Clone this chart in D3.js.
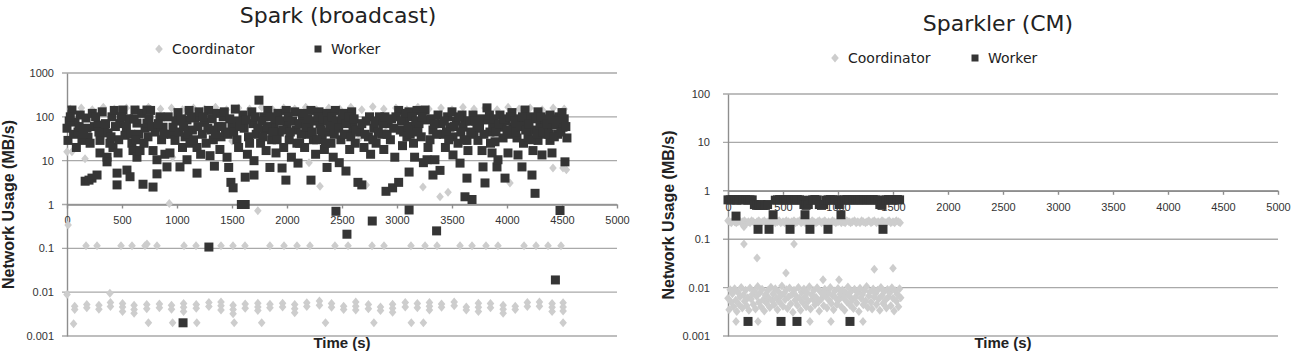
<!DOCTYPE html>
<html>
<head>
<meta charset="utf-8">
<script src="https://cdn.jsdelivr.net/npm/d3@7"></script>
<style>
  body { margin: 0; background: #fff; }
  svg { display: block; }
</style>
</head>
<body>
<svg id="chart" width="1294" height="353"></svg>
<script>
// ---- data ----
const xTicks = [0, 500, 1000, 1500, 2000, 2500, 3000, 3500, 4000, 4500, 5000];
const sparkYTicks = [0.001, 0.01, 0.1, 1, 10, 100, 1000];
const sparkYLabels = ["0.001", "0.01", "0.1", "1", "10", "100", "1000"];
const sparklerYTicks = [0.001, 0.01, 0.1, 1, 10, 100];
const sparklerYLabels = ["0.001", "0.01", "0.1", "1", "10", "100"];
const seriesNames = ["Coordinator", "Worker"];
const titles = ["Spark (broadcast)", "Sparkler (CM)"];

// Spark (broadcast) - [time s, MB/s]
const sparkWorker = [
  [0,55],[9,29],[20,80],[45,143],[60,40],[73,76],[100,45],[120,110],[136,29],[173,94],[182,55],[191,34],[165,3.4],[200,3.6],[227,4],[273,4.7],
  [230,120],[250,60],[282,65],[300,29],[300,15],[320,130],[340,45],[364,12],[364,9.4],[373,43],[390,25],[409,100],[418,20],[430,140],[455,2.8],
  [455,5.2],[464,15],[480,70],[509,143],[527,38],[545,6.1],[560,90],[573,4.3],[590,25],[600,17],[618,143],[636,72],[636,12],[650,40],[664,17],
  [680,120],[691,2.9],[710,55],[727,143],[727,72],[736,35],[760,140],[782,2.5],[782,17],[800,45],[818,10.5],[818,5],[845,100],[860,30],[873,58],
  [890,14],[909,7.2],[936,15],[950,40],[964,58],[982,29],[1009,125],[1027,7.2],[1050,20],[1073,35],[1091,85],[1091,10.5],[1110,140],[1118,25],
  [1140,50],[1164,94],[1182,20],[1182,5.2],[1200,130],[1055,0.002],
  [1215,14],[1230,40],[1250,75],[1265,25],[1287,140],[1290,0.107],[1300,13],[1310,50],[1330,30],[1340,7.5],[1362,120],[1375,60],[1390,18],[1400,35],
  [1420,100],[1440,45],[1455,12],[1470,7],[1490,3.2],[1510,2.4],[1500,60],[1530,150],[1545,30],[1560,20],[1585,1.0],[1620,1.0],[1620,4.2],
  [1600,110],[1610,55],[1640,14],[1650,35],[1680,130],[1690,70],[1700,4.7],[1700,10],[1720,40],[1745,240],[1760,25],[1790,100],[1800,50],
  [1810,17],[1826,140],[1845,7],[1860,30],[1880,60],[1900,15],[1918,120],[1930,45],[1955,6.8],[1970,20],[1993,140],[1990,3.6],[2000,65],
  [2020,30],[2040,12],[2070,130],[2085,50],[2100,8.8],[2115,25],[2140,90],[2160,20],[2180,40],[2200,60],[2218,140],[2218,3.6],[2240,30],
  [2260,14],[2291,130],[2300,70],[2320,35],[2340,18],[2364,120],[2364,7],[2380,45],[2400,25],[2420,12],[2440,140],[2445,0.7],[2460,60],
  [2475,9],[2490,30],[2515,120],[2536,5.8],[2545,0.21],[2550,40],[2570,18],[2588,130],[2600,60],[2620,25],[2645,3.2],[2680,2.8],[2660,45],
  [2700,20],[2720,80],[2740,35],[2760,14],[2775,0.42],[2790,55],[2810,25],[2840,100],[2860,40],[2880,18],[2900,2.0],[2920,70],[2940,30],
  [2960,2.4],[2980,12],[3015,3.2],[3015,140],[3030,50],[3050,22],[3070,90],[3090,35],[3110,5.5],[3110,0.75],[3109,130],[3130,60],[3150,25],
  [3160,12],[3182,140],[3200,70],[3220,35],[3240,9],
  [3255,143],[3273,85],[3273,10.5],[3282,20],[3300,30],[3327,50],[3327,4.7],[3345,10.5],[3360,0.25],[3373,110],[3391,6],[3400,70],[3420,40],
  [3440,20],[3460,100],[3482,58],[3500,130],[3509,35],[3509,13.5],[3540,80],[3555,25],[3573,8.8],[3591,110],[3600,58],[3618,1.5],[3620,80],
  [3636,29],[3636,4],[3645,17],[3682,1.3],[3691,110],[3700,40],[3727,55],[3736,29],[3760,90],[3773,17],[3782,7.2],[3800,3.1],[3818,160],
  [3827,85],[3845,45],[3864,15],[3870,60],[3891,27],[3909,7.2],[3918,10.5],[3936,110],[3955,58],[3964,33],[3982,4],[3990,80],[4009,15],
  [4020,40],[4045,125],[4055,58],[4091,33],[4100,13.5],[4110,90],[4136,7.2],[4150,25],[4164,143],[4182,72],[4191,35],[4210,100],[4227,4.7],
  [4236,17],[4250,50],[4255,1.8],[4282,130],[4282,29],[4300,65],[4318,13.5],[4340,90],[4350,40],[4373,58],[4391,110],[4391,29],[4409,15],
  [4436,65],[4440,0.019],[4460,40],[4470,100],[4482,0.73],[4500,125],[4509,58],[4527,9.4],[4545,33],
  // the dense 15-120 band
  [30,100],[85,20],[110,60],[150,40],[210,25],[260,100],[290,45],[350,70],[400,35],[440,60],[470,30],[495,100],[540,60],[580,40],[610,90],
  [625,30],[700,25],[745,90],[770,60],[830,70],[880,40],[920,100],[990,80],[1020,45],[1040,90],[1060,60],[1100,40],[1130,100],[1150,30],
  [1190,60],[1240,100],[1280,55],[1320,90],[1350,40],[1410,60],[1430,130],[1465,40],[1480,90],[1515,45],[1550,80],[1570,60],[1630,85],
  [1660,25],[1710,100],[1735,55],[1770,80],[1780,35],[1820,60],[1850,100],[1870,45],[1890,90],[1910,30],[1940,80],[1960,50],[2010,100],
  [2030,45],[2050,80],[2090,25],[2110,70],[2130,40],[2150,120],[2170,60],[2190,90],[2230,45],[2250,80],[2270,30],[2280,100],[2310,50],
  [2330,90],[2350,25],[2370,80],[2390,60],[2410,100],[2430,40],[2450,80],[2470,55],[2500,90],[2520,40],[2540,70],[2560,100],[2580,35],
  [2610,90],[2630,50],[2680,70],[2710,40],[2750,100],[2780,30],[2800,80],[2830,45],[2870,70],[2890,100],[2910,40],[2950,90],[2970,55],
  [2990,100],[3040,80],[3060,45],[3080,120],[3100,60],[3120,40],[3140,100],[3170,80],[3190,45],[3230,100],[3310,90],[3340,70],[3360,40],
  [3430,80],[3450,45],[3470,30],[3520,60],[3560,100],[3580,45],[3610,30],[3660,80],[3670,45],[3710,80],[3750,60],[3790,40],[3840,110],
  [3850,25],[3880,90],[3900,45],[3925,70],[3970,90],[4000,50],[4030,100],[4070,80],[4080,45],[4120,60],[4140,100],[4170,50],[4200,70],
  [4220,30],[4260,90],[4270,40],[4310,100],[4330,45],[4360,70],[4380,40],[4420,90],[4430,35],[4450,80],[4490,45],[4520,90],[4535,60]
];

const sparkCoordinator = [
  // upper row
  [30,150],[130,160],[230,145],[330,165],[430,150],[540,160],[640,145],[740,165],[850,150],[950,160],[1050,145],[1150,160],[1250,150],
  [1350,165],[1450,145],[1560,160],[1660,150],[1770,165],[1870,145],[1970,160],[2070,150],[2170,165],[2270,145],[2380,160],[2480,150],
  [2580,165],[2680,145],[2780,170],[2880,150],[2990,160],[3090,145],[3190,165],[3290,150],[3400,160],[3500,145],[3600,165],[3700,150],
  [3800,160],[3910,145],[4010,165],[4110,150],[4210,160],[4320,145],[4420,160],[4520,150],
  [2650,30],[2700,40],[2800,60],[2900,45],[1240,35],[1500,28],
  // scattered
  [0,16],[45,16],[164,11],[960,12],[2200,9],[930,1.05],[1735,0.72],[2300,2.6],[2720,2.8],[3236,2.5],[3391,1.5],[3464,1.9],[4027,3.1],
  [4418,6.8],[4509,6.8],[4540,6.2],[10,0.34],[0,0.0088],[390,0.0095],
  // 0.1 row
  [173,0.115],[273,0.115],[491,0.115],[591,0.115],[709,0.115],[727,0.125],[818,0.115],[1064,0.115],[1173,0.115],[1400,0.115],[1509,0.115],
  [1618,0.115],[1845,0.115],[1973,0.115],[2091,0.115],[2209,0.115],[2436,0.115],[2555,0.115],[2773,0.115],[2882,0.115],[3127,0.115],
  [3255,0.115],[3364,0.115],[3573,0.115],[3682,0.115],[3809,0.115],[3918,0.115],[4155,0.115],[4264,0.115],[4373,0.115],[4491,0.115],
  // 0.001 - 0.01 rows
  [70,0.0048],[70,0.004],[60,0.0019],[180,0.0052],[180,0.0044],[290,0.005],[290,0.0041],[395,0.0058],[395,0.0047],
  [505,0.0055],[505,0.0046],[505,0.0036],[610,0.005],[610,0.004],[610,0.0033],[725,0.0052],[725,0.0042],[740,0.002],
  [840,0.0054],[840,0.0044],[950,0.005],[950,0.0041],[960,0.002],[1060,0.0055],[1060,0.0045],[1060,0.0036],
  [1175,0.0052],[1175,0.0043],[1180,0.002],[1290,0.0058],[1290,0.0047],[1400,0.006],[1400,0.0049],[1400,0.0039],
  [1510,0.005],[1510,0.004],[1510,0.0032],[1520,0.002],[1620,0.0054],[1620,0.0043],[1735,0.0056],[1735,0.0046],[1735,0.0038],[1770,0.002],
  [1845,0.0053],[1845,0.0044],[1960,0.0056],[1960,0.0046],[2070,0.0052],[2070,0.0042],[2070,0.0034],[2180,0.0057],[2180,0.0047],
  [2295,0.0063],[2295,0.005],[2350,0.002],[2405,0.0055],[2405,0.0045],[2515,0.0048],[2515,0.004],[2625,0.006],[2625,0.0048],[2625,0.0039],
  [2740,0.0052],[2740,0.0042],[2850,0.0046],[2850,0.0038],[2790,0.002],[2960,0.0053],[2960,0.0043],[2960,0.0035],[3075,0.0058],[3075,0.0046],
  [3185,0.0055],[3185,0.0044],[3130,0.002],[3240,0.002],[3295,0.0058],[3295,0.0048],[3295,0.0039],[3405,0.0054],[3405,0.0045],
  [3520,0.006],[3520,0.0049],[3630,0.0046],[3630,0.0039],[3740,0.0056],[3740,0.0045],[3740,0.0036],[3850,0.0055],[3850,0.0044],
  [3965,0.005],[3965,0.0041],[3965,0.0033],[4075,0.0048],[4075,0.004],[4185,0.0058],[4185,0.0047],[4295,0.006],[4295,0.0048],
  [4410,0.0055],[4410,0.0045],[4410,0.0036],[4510,0.0057],[4510,0.0046],[4510,0.0037],[4510,0.002]
];

// Sparkler (CM)
const sparklerWorker = [
  [0,0.65],[20,0.65],[40,0.66],[60,0.65],[73,0.3],[80,0.64],[100,0.66],[120,0.65],[140,0.65],[160,0.66],[180,0.64],[182,0.002],[200,0.65],
  [220,0.65],[240,0.52],[260,0.5],[273,0.16],[280,0.5],[300,0.52],[320,0.5],[340,0.5],[360,0.52],[373,0.16],[410,0.32],[430,0.64],[450,0.65],
  [470,0.66],[482,0.002],[490,0.65],[510,0.64],[530,0.65],[550,0.66],[564,0.16],[570,0.65],[590,0.64],[610,0.65],[627,0.002],[630,0.66],
  [650,0.65],[670,0.64],[690,0.52],[700,0.32],[710,0.5],[730,0.52],[745,0.16],[750,0.64],[770,0.65],[790,0.66],[810,0.65],[830,0.52],
  [850,0.5],[870,0.52],[890,0.64],[909,0.16],[910,0.65],[930,0.66],[950,0.65],[970,0.64],[990,0.65],[1010,0.52],[1027,0.32],[1040,0.64],
  [1060,0.65],[1080,0.66],[1100,0.65],[1109,0.002],[1120,0.64],[1140,0.65],[1160,0.66],[1180,0.65],[1200,0.64],[1220,0.65],[1240,0.66],
  [1260,0.65],[1280,0.64],[1300,0.65],[1320,0.66],[1340,0.65],[1360,0.64],[1380,0.52],[1400,0.5],[1409,0.16],[1420,0.64],[1440,0.65],
  [1460,0.66],[1480,0.65],[1500,0.64],[1520,0.65],[1540,0.66],[1560,0.65]
];

const sparklerCoordinator = [
  // ~0.23 row
  [0,0.24],[15,0.23],[30,0.22],[45,0.24],[60,0.23],[75,0.22],[90,0.23],[105,0.24],[120,0.22],[135,0.23],[150,0.24],[170,0.22],[185,0.23],
  [200,0.22],[215,0.24],[230,0.23],[250,0.21],[265,0.23],[280,0.24],[300,0.22],[315,0.23],[330,0.24],[350,0.22],[365,0.23],[380,0.22],
  [400,0.24],[415,0.23],[430,0.22],[450,0.23],[465,0.24],[480,0.22],[500,0.23],[515,0.22],[530,0.24],[550,0.23],[565,0.22],[580,0.23],
  [600,0.24],[615,0.22],[630,0.23],[650,0.24],[665,0.22],[680,0.23],[700,0.22],[715,0.24],[730,0.23],[750,0.22],[765,0.24],[780,0.23],
  [800,0.22],[815,0.23],[830,0.24],[850,0.22],[865,0.23],[880,0.24],[900,0.22],[915,0.23],[930,0.22],[950,0.24],[965,0.23],[980,0.22],
  [1000,0.23],[1015,0.24],[1030,0.22],[1050,0.23],[1065,0.22],[1080,0.24],[1100,0.23],[1115,0.22],[1130,0.23],[1150,0.24],[1165,0.22],
  [1180,0.23],[1200,0.22],[1215,0.24],[1230,0.23],[1250,0.22],[1265,0.23],[1280,0.24],[1300,0.22],[1315,0.23],[1330,0.24],[1350,0.22],
  [1365,0.23],[1380,0.22],[1400,0.24],[1415,0.23],[1430,0.22],[1450,0.23],[1465,0.24],[1480,0.22],[1500,0.23],[1515,0.22],[1530,0.24],
  [1550,0.23],[1565,0.22],
  // scattered
  [145,0.18],[145,0.08],[264,0.041],[527,0.02],[600,0.08],[1330,0.024],[1500,0.025],[864,0.0145],[1009,0.0145],
  [73,0.002],[273,0.002],[745,0.002],[936,0.002],[1227,0.002],
  // dense 0.003 - 0.01 band
  [0,0.006],[10,0.0035],[20,0.009],[30,0.005],[40,0.0075],[50,0.004],[60,0.0095],[70,0.0055],[80,0.0032],[90,0.008],[100,0.0045],
  [110,0.0065],[120,0.01],[130,0.0038],[140,0.007],[150,0.0052],[160,0.0088],[170,0.0042],[180,0.0062],[190,0.0034],[200,0.0098],
  [210,0.0058],[220,0.0072],[230,0.0045],[240,0.0085],[250,0.0036],[260,0.0066],[270,0.0105],[280,0.005],[290,0.0078],[300,0.004],
  [310,0.0092],[320,0.0056],[330,0.0033],[340,0.007],[350,0.0048],[360,0.0086],[370,0.0062],[380,0.0039],[390,0.0102],[400,0.0054],
  [410,0.0075],[420,0.0044],[430,0.0095],[440,0.006],[450,0.0035],[460,0.0082],[470,0.005],[480,0.0068],[490,0.0108],[500,0.0041],
  [510,0.0076],[520,0.0057],[530,0.009],[540,0.0037],[550,0.0064],[560,0.0098],[570,0.0046],[580,0.0072],[590,0.0031],[600,0.0088],
  [610,0.0055],[620,0.0067],[630,0.0043],[640,0.01],[650,0.006],[660,0.0034],[670,0.008],[680,0.0049],[690,0.0094],[700,0.0065],
  [710,0.004],[720,0.0078],[730,0.0053],[740,0.0104],[750,0.0036],[760,0.0071],[770,0.0058],[780,0.0087],[790,0.0044],[800,0.0063],
  [810,0.0099],[820,0.005],[830,0.0033],[840,0.0082],[850,0.0059],[860,0.0074],[870,0.0042],[880,0.0093],[890,0.0066],[900,0.0038],
  [910,0.0079],[920,0.0054],[930,0.0101],[940,0.0047],[950,0.0069],[960,0.0035],[970,0.0085],[980,0.0061],[990,0.0045],[1000,0.0096],
  [1010,0.0057],[1020,0.0073],[1030,0.004],[1040,0.0089],[1050,0.0062],[1060,0.0034],[1070,0.0077],[1080,0.0051],[1090,0.0103],
  [1100,0.0068],[1110,0.0043],[1120,0.0084],[1130,0.0056],[1140,0.0037],[1150,0.0092],[1160,0.0064],[1170,0.0048],[1180,0.0079],
  [1190,0.0032],[1200,0.0097],[1210,0.006],[1220,0.0071],[1230,0.0044],[1240,0.0086],[1250,0.0053],[1260,0.0106],[1270,0.0039],
  [1280,0.0067],[1290,0.0081],[1300,0.005],[1310,0.0036],[1320,0.0094],[1330,0.0063],[1340,0.0075],[1350,0.0045],[1360,0.0088],
  [1370,0.0058],[1380,0.0034],[1390,0.01],[1400,0.0069],[1410,0.0047],[1420,0.0083],[1430,0.0055],[1440,0.0038],[1450,0.0091],
  [1460,0.0065],[1470,0.0078],[1480,0.0042],[1490,0.0099],[1500,0.006],[1510,0.0033],[1520,0.0086],[1530,0.0052],[1540,0.0072],
  [1550,0.004],[1560,0.0095],[1570,0.0062]
];

let svg = d3.select("#chart");
let coordColor = "#cdcdcd";
let workerColor = "#353535";
let diamond = "M0,-4.5L3.8,0L0,4.5L-3.8,0Z";

let drawPanel = (p) => {
    let x = d3.scaleLinear().domain([0, 5000]).range([p.left, p.left + 550]);
    let y = d3.scaleLog().domain([p.yTicks[0], p.yTicks[p.yTicks.length - 1]]).range([336, p.top]);
    let g = svg.append("g");

    // gridlines
    g.selectAll(".grid")
     .data(p.yTicks)
     .enter()
     .append("line")
     .attr("x1", p.left - 5)
     .attr("x2", p.left + 550)
     .attr("y1", (d) => y(d))
     .attr("y2", (d) => y(d))
     .attr("stroke", "#a9a9a9")
     .attr("stroke-width", 1.4);

    // y axis
    let yAxis = g.append("g")
                 .attr("transform", `translate(${p.left},0)`)
                 .call(d3.axisLeft(y).tickValues(p.yTicks).tickFormat((d, i) => p.yLabels[i]).tickSize(0).tickPadding(p.yPad));
    // x axis crosses at 1
    let xAxis = g.append("g")
                 .attr("transform", `translate(0,${y(1)})`)
                 .call(d3.axisBottom(x).tickValues(xTicks).tickFormat((d) => d).tickSizeInner(4).tickSizeOuter(0).tickPadding(8));

    [yAxis, xAxis].forEach((a) => {
        a.selectAll("path, line").attr("stroke", "#8e8e8e").attr("stroke-width", 1.4);
        a.selectAll("text").attr("fill", "#333").style("font-family", "'Liberation Sans', Arial, sans-serif").style("font-size", "11px");
    });

    // coordinator diamonds
    g.selectAll(".coord")
     .data(p.coord)
     .enter()
     .append("path")
     .attr("d", diamond)
     .attr("transform", (d) => `translate(${x(d[0])},${y(d[1])})`)
     .attr("fill", coordColor);

    // worker squares
    g.selectAll(".worker")
     .data(p.worker)
     .enter()
     .append("rect")
     .attr("x", (d) => x(d[0]) - 4.5)
     .attr("y", (d) => y(d[1]) - 4.5)
     .attr("width", 9)
     .attr("height", 9)
     .attr("fill", workerColor);

    // title
    g.append("text")
     .text(p.title)
     .attr("x", p.titleX)
     .attr("y", p.titleY)
     .attr("text-anchor", "middle")
     .attr("fill", "#222")
     .style("font-family", "'DejaVu Sans', sans-serif")
     .style("font-size", "22px");

    // legend
    g.append("path").attr("d", diamond).attr("transform", `translate(${p.legX[0]},${p.legY})`).attr("fill", coordColor);
    g.append("rect").attr("x", p.legX[1] - 3.5).attr("y", p.legY - 3.5).attr("width", 7).attr("height", 7).attr("fill", workerColor);
    g.selectAll(".legtext")
     .data(seriesNames)
     .enter()
     .append("text")
     .text((d) => d)
     .attr("x", (d, i) => p.legX[i] + 13)
     .attr("y", p.legY + 5)
     .attr("fill", "#222")
     .style("font-family", "'DejaVu Sans', sans-serif")
     .style("font-size", "14px");

    // axis titles
    g.append("text")
     .text("Network Usage (MB/s)")
     .attr("transform", `translate(${p.yTitleX},${(336 + p.top) / 2}) rotate(-90)`)
     .attr("dy", "0.35em")
     .attr("text-anchor", "middle")
     .attr("fill", "#222")
     .style("font-family", "'Liberation Sans', Arial, sans-serif")
     .style("font-weight", "bold")
     .style("font-size", "16px");

    g.append("text")
     .text("Time (s)")
     .attr("x", p.left + 275)
     .attr("y", 348)
     .attr("text-anchor", "middle")
     .attr("fill", "#222")
     .style("font-family", "'Liberation Sans', Arial, sans-serif")
     .style("font-weight", "bold")
     .style("font-size", "15px");
};

drawPanel({
    left: 67, top: 73, yTicks: sparkYTicks, yLabels: sparkYLabels, yPad: 13,
    coord: sparkCoordinator, worker: sparkWorker,
    title: titles[0], titleX: 338, titleY: 23,
    legX: [159, 318], legY: 49, yTitleX: 8
});

drawPanel({
    left: 728, top: 94, yTicks: sparklerYTicks, yLabels: sparklerYLabels, yPad: 18,
    coord: sparklerCoordinator, worker: sparklerWorker,
    title: titles[1], titleX: 998, titleY: 31,
    legX: [835, 975], legY: 58, yTitleX: 668
});
</script>
</body>
</html>
